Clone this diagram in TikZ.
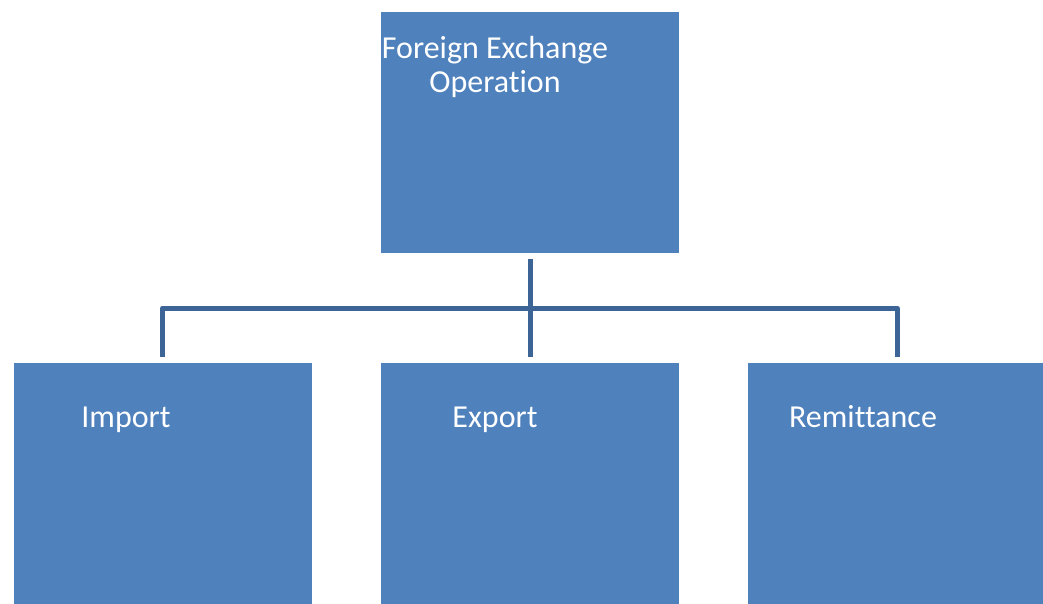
\documentclass[tikz,border=0pt]{standalone}
\usepackage{fontspec}
\setmainfont[Ligatures={NoCommon}]{Carlito}
\definecolor{boxblue}{RGB}{79,129,189}
\definecolor{linkblue}{RGB}{60,100,150}
\tikzset{
  box/.style={fill=boxblue, draw=none, minimum width=298pt, minimum height=241pt, inner sep=0pt},
  boxtext/.style={text=white, font=\fontsize{32}{34}\selectfont, anchor=base, align=center, inner sep=0pt},
  link/.style={draw=linkblue, line width=5pt, shorten <=6pt, shorten >=6pt}
}
\begin{document}
\begin{tikzpicture}[x=1pt,y=-1pt]
        \useasboundingbox (0,0) rectangle (1043,603);

        % Top box
        \node[box] (op) at (530,132.5) {};
        \node[boxtext] (opText) at (495,92) {Foreign Exchange\\Operation};

        % Bottom row
        \node[box] (import) at (162.5,483.5) {};
        \node[boxtext] (importText) at (126,427) {Import};

        \node[box] (export) at (530,483.5) {};
        \node[boxtext] (exportText) at (495,427) {Export};

        \node[box] (remit) at (897,483.5) {};
        \node[boxtext] (remitText) at (863,427) {Remittance};

        % Connectors
        \coordinate (bus) at (530,308);
        \draw[link, shorten >=0pt] (op.south) -- (bus);
        \draw[link, line join=round] (import.north) |- (bus) -| (remit.north);
        \draw[link, shorten <=0pt] (bus) -- (export.north);
\end{tikzpicture}
\end{document}
